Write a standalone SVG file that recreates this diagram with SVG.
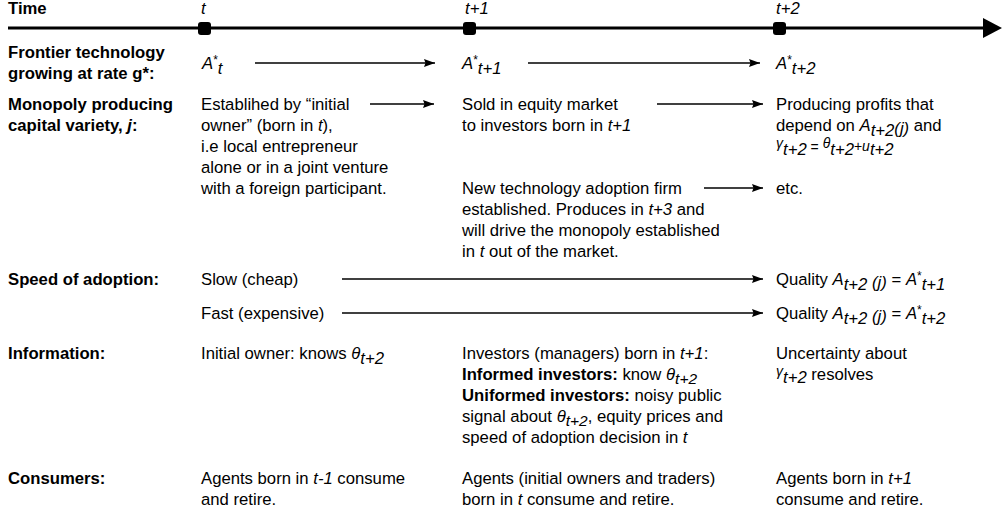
<svg xmlns="http://www.w3.org/2000/svg" width="1003" height="521" viewBox="0 0 1003 521">
<defs>
<style>
text{font-family:"Liberation Sans",Arial,sans-serif;font-size:16.7px;fill:#000}
.b{font-weight:bold}
.i{font-style:italic}
.sm{font-size:12px}
.sub{font-size:15.5px;font-style:italic}
.ln{stroke:#000;stroke-width:1.6;fill:none}
.tl{stroke:#000;stroke-width:2.8;fill:none}
.sq{fill:#000}
</style>
<marker id="ah" markerUnits="userSpaceOnUse" markerWidth="11" markerHeight="8" refX="11" refY="4" orient="auto" viewBox="0 0 11 8"><path d="M0,0 L11,4 L0,8 L1.5,4 z" fill="#000"/></marker>
</defs>
<rect width="1003" height="521" fill="#fff"/>

<g id="connectors">
<line class="tl" x1="8" y1="28" x2="988" y2="28"/>
<polygon points="1002,28 983,18 983,38" fill="#000"/>
<line class="ln" x1="255" y1="63" x2="435" y2="63" marker-end="url(#ah)"/>
<line class="ln" x1="528" y1="63" x2="760" y2="63" marker-end="url(#ah)"/>
<line class="ln" x1="370" y1="104" x2="434" y2="104" marker-end="url(#ah)"/>
<line class="ln" x1="657" y1="104" x2="763" y2="104" marker-end="url(#ah)"/>
<line class="ln" x1="704" y1="188" x2="763" y2="188" marker-end="url(#ah)"/>
<line class="ln" x1="342" y1="279" x2="763" y2="279" marker-end="url(#ah)"/>
<line class="ln" x1="342" y1="313" x2="763" y2="313" marker-end="url(#ah)"/>
</g>

<g id="time-label"><text class="b" x="8" y="14">Time</text></g>
<g id="node-t"><rect class="sq" x="198" y="22" width="13" height="13" rx="3"/><text class="i" x="201" y="14">t</text></g>
<g id="node-t1"><rect class="sq" x="463" y="22" width="13" height="13" rx="3"/><text class="i" x="465" y="14">t+1</text></g>
<g id="node-t2"><rect class="sq" x="773" y="22" width="13" height="13" rx="3"/><text class="i" x="776" y="14">t+2</text></g>

<g id="label-frontier"><text class="b" x="8" y="58">Frontier technology</text><text class="b" x="8" y="79">growing at rate g*:</text></g>
<g id="a-t"><text x="202" y="69"><tspan class="i">A</tspan><tspan class="sm" dy="-5">*</tspan><tspan class="i" dy="10">t</tspan></text></g>
<g id="a-t1"><text x="462" y="69"><tspan class="i">A</tspan><tspan class="sm" dy="-5">*</tspan><tspan class="i" dy="10">t+1</tspan></text></g>
<g id="a-t2"><text x="776" y="69"><tspan class="i">A</tspan><tspan class="sm" dy="-5">*</tspan><tspan class="i" dy="10">t+2</tspan></text></g>

<g id="label-monopoly"><text class="b" x="8" y="110">Monopoly producing</text><text class="b" x="8" y="131">capital variety, <tspan class="i">j</tspan>:</text></g>
<g id="monopoly-t"><text x="201" y="110">Establihed by “initial</text><text x="201" y="131">owner” (born in <tspan class="i">t</tspan>),</text><text x="201" y="152">i.e local entrepreneur</text><text x="201" y="173">alone or in a joint venture</text><text x="201" y="194">with a foreign participant.</text></g>
<g id="monopoly-t1"><text x="462" y="110">Sold in equity market</text><text x="462" y="131">to investors born in <tspan class="i">t+1</tspan></text></g>
<g id="newtech-t1"><text x="462" y="194">New technology adoption firm</text><text x="462" y="215">established. Produces in <tspan class="i">t+3</tspan> and</text><text x="462" y="236">will drive the monopoly established</text><text x="462" y="257">in <tspan class="i">t</tspan> out of the market.</text></g>
<g id="monopoly-t2"><text x="776" y="110">Producing profits that</text><text x="776" y="131">depend on <tspan class="i">A</tspan><tspan class="i" dy="5">t+2</tspan><tspan class="i" dy="-2">(j)</tspan><tspan dy="-3"> and</tspan></text><text x="776" y="152"><tspan class="i" font-size="14" dy="-4">γ</tspan><tspan class="i" dy="7">t+2</tspan><tspan dy="-3" font-size="14"> = </tspan><tspan class="i" font-size="14" dy="-4">θ</tspan><tspan class="i" dy="7">t+2</tspan><tspan font-size="14" dy="-4">+</tspan><tspan class="i" font-size="14">u</tspan><tspan class="i" dy="4">t+2</tspan></text></g>
<g id="etc-t2"><text x="776" y="194">etc.</text></g>

<g id="label-speed"><text class="b" x="8" y="285">Speed of adoption:</text></g>
<g id="slow"><text x="201" y="285">Slow (cheap)</text></g>
<g id="fast"><text x="201" y="319">Fast (expensive)</text></g>
<g id="quality-slow"><text x="776" y="285">Quality <tspan class="i">A</tspan><tspan class="i" dy="5">t+2</tspan><tspan class="i" dy="-2"> (j)</tspan><tspan dy="-3"> = </tspan><tspan class="i">A</tspan><tspan class="sm" dy="-5">*</tspan><tspan class="i" dy="10">t+1</tspan></text></g>
<g id="quality-fast"><text x="776" y="319">Quality <tspan class="i">A</tspan><tspan class="i" dy="5">t+2</tspan><tspan class="i" dy="-2"> (j)</tspan><tspan dy="-3"> = </tspan><tspan class="i">A</tspan><tspan class="sm" dy="-5">*</tspan><tspan class="i" dy="10">t+2</tspan></text></g>

<g id="label-information"><text class="b" x="8" y="359">Information:</text></g>
<g id="info-t"><text x="201" y="359">Initial owner: knows <tspan class="i">θ</tspan><tspan class="i" dy="5">t+2</tspan></text></g>
<g id="info-t1"><text x="462" y="359">Investors (managers) born in <tspan class="i">t+1</tspan>:</text><text x="462" y="380"><tspan class="b">Informed investors:</tspan> know <tspan class="i">θ</tspan><tspan class="sub" dy="3.5">t+2</tspan></text><text x="462" y="401"><tspan class="b">Uniformed investors:</tspan> noisy public</text><text x="462" y="422">signal about <tspan class="i">θ</tspan><tspan class="sub" dy="3.5">t+2</tspan><tspan dy="-3.5">, equity prices and</tspan></text><text x="462" y="443">speed of adoption decision in  <tspan class="i">t</tspan></text></g>
<g id="info-t2"><text x="776" y="359">Uncertainty about</text><text x="776" y="380"><tspan class="i" font-size="14" dy="-4">γ</tspan><tspan class="i" dy="7">t+2</tspan><tspan dy="-3"> resolves</tspan></text></g>

<g id="label-consumers"><text class="b" x="8" y="484">Consumers:</text></g>
<g id="cons-t"><text x="201" y="484">Agents born in <tspan class="i">t-1</tspan> consume</text><text x="201" y="505">and retire.</text></g>
<g id="cons-t1"><text x="462" y="484">Agents (initial owners and traders)</text><text x="462" y="505">born in <tspan class="i">t</tspan> consume and retire.</text></g>
<g id="cons-t2"><text x="776" y="484">Agents born in <tspan class="i">t+1</tspan></text><text x="776" y="505">consume and retire.</text></g>
</svg>
